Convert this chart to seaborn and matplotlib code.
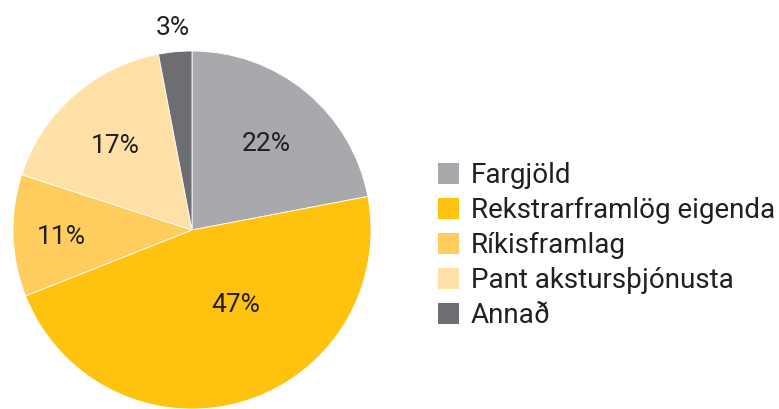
import matplotlib
matplotlib.use("Agg")
import matplotlib.pyplot as plt
import seaborn as sns
import numpy as np

categories = ["Fargjöld", "Rekstrarframlög eigenda", "Ríkisframlag", "Pant akstursþjónusta", "Annað"]
values = [22, 47, 11, 17, 3]
colors = ["#A7A9AC", "#FFC20E", "#FECD5E", "#FFE1A8", "#6D6E71"]
label_dist = [0.65, 0.47, 0.73, 0.65, 1.15]

sns.set_theme(style="white")
plt.rcParams['font.family'] = ['Roboto', 'DejaVu Sans']
text_color = "#231F20"

fig = plt.figure(figsize=(7.79, 4.09), dpi=100)
W, H = 779, 409
ax = fig.add_axes([13 / W, 0 / H, 358 / W, 358 / H])

wedges, texts = ax.pie(values, colors=colors, startangle=90, counterclock=False,
                       wedgeprops=dict(linewidth=0.6, edgecolor="white"), radius=1)
ax.set_xlim(-1, 1)
ax.set_ylim(-1, 1)
ax.set_aspect("equal")

for w, v, d in zip(wedges, values, label_dist):
    ang = np.deg2rad((w.theta1 + w.theta2) / 2)
    if v == 47:
        ang = np.deg2rad(-58.6)
    ax.text(d * np.cos(ang), d * np.sin(ang) - 0.005, f"{v}%", ha="center", va="center_baseline",
            fontsize=19, color=text_color, clip_on=False)

leg = fig.legend(wedges, categories, loc="upper left",
                 bbox_to_anchor=(438 / W, 1 - 162 / H), bbox_transform=fig.transFigure,
                 frameon=False, fontsize=20, handlelength=0.76, handleheight=0.76,
                 handletextpad=0.42, labelspacing=0.29, borderpad=0, borderaxespad=0)
for t in leg.get_texts():
    t.set_color(text_color)
for h in leg.legend_handles:
    h.set_edgecolor("none")

fig.savefig("out.png", dpi=100)
